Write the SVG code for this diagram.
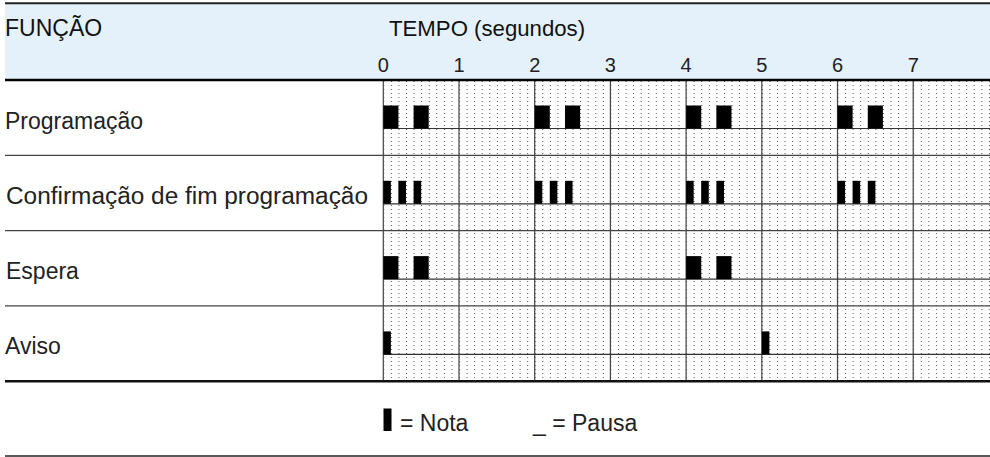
<svg xmlns="http://www.w3.org/2000/svg" width="990" height="457" viewBox="0 0 990 457">
  <style>
    .lbl { font-family: "Liberation Sans", Arial, sans-serif; font-size: 23px; fill: #222; }
    .hdr { font-family: "Liberation Sans", Arial, sans-serif; font-size: 23px; fill: #111; }
    .tick { font-family: "Liberation Sans", Arial, sans-serif; font-size: 20px; fill: #222; text-anchor: middle; }
    .note { fill: #000; }
    .vline { stroke: #444; stroke-width: 1.2; }
    .hline { stroke: #444; stroke-width: 1.2; }
    .sub { stroke: #333; stroke-width: 1.2; }
    .thick { stroke: #111; stroke-width: 2.5; }
  </style>
  <defs>
    <pattern id="dots" patternUnits="userSpaceOnUse" x="383.3" y="81" width="7.57" height="4">
      <rect x="0" y="0" width="1" height="1" fill="#555"/>
    </pattern>
  </defs>

  <!-- header -->
  <g id="header">
    <rect x="5" y="4" width="985" height="75" fill="#E4F1FB"/>
    <text class="hdr" x="5" y="36">FUNÇÃO</text>
    <text class="hdr" x="389" y="36" style="font-size:22.2px">TEMPO (segundos)</text>
    <text class="tick" x="383.3" y="72">0</text>
    <text class="tick" x="459" y="72">1</text>
    <text class="tick" x="534.7" y="72">2</text>
    <text class="tick" x="610.4" y="72">3</text>
    <text class="tick" x="686.1" y="72">4</text>
    <text class="tick" x="761.8" y="72">5</text>
    <text class="tick" x="837.5" y="72">6</text>
    <text class="tick" x="913.2" y="72">7</text>
  </g>

  <!-- grid -->
  <g id="grid">
    <rect x="383.3" y="81" width="607" height="300" fill="url(#dots)"/>
    <line class="vline" x1="383.3" y1="80" x2="383.3" y2="381"/>
    <line class="vline" x1="459" y1="80" x2="459" y2="381"/>
    <line class="vline" x1="534.7" y1="80" x2="534.7" y2="381"/>
    <line class="vline" x1="610.4" y1="80" x2="610.4" y2="381"/>
    <line class="vline" x1="686.1" y1="80" x2="686.1" y2="381"/>
    <line class="vline" x1="761.8" y1="80" x2="761.8" y2="381"/>
    <line class="vline" x1="837.5" y1="80" x2="837.5" y2="381"/>
    <line class="vline" x1="913.2" y1="80" x2="913.2" y2="381"/>
    <line class="hline" x1="5" y1="155.3" x2="990" y2="155.3"/>
    <line class="hline" x1="5" y1="230.6" x2="990" y2="230.6"/>
    <line class="hline" x1="5" y1="305.9" x2="990" y2="305.9"/>
    <line class="sub" x1="383.3" y1="128.5" x2="990" y2="128.5"/>
    <line class="sub" x1="383.3" y1="203.8" x2="990" y2="203.8"/>
    <line class="sub" x1="383.3" y1="279.1" x2="990" y2="279.1"/>
    <line class="sub" x1="383.3" y1="354.4" x2="990" y2="354.4"/>
    <line stroke="#222" stroke-width="2" x1="5" y1="3.3" x2="990" y2="3.3"/>
    <line stroke="#000" stroke-width="2.5" x1="5" y1="80" x2="990" y2="80"/>
    <line class="thick" x1="5" y1="381.2" x2="990" y2="381.2"/>
    <line stroke="#222" stroke-width="1.5" x1="5" y1="456" x2="990" y2="456"/>
  </g>

  <g id="row-programacao">
    <text class="lbl" x="5" y="129">Programação</text>
    <rect class="note" x="383.3" y="105.5" width="15.1" height="23"/>
    <rect class="note" x="413.6" y="105.5" width="15.1" height="23"/>
    <rect class="note" x="534.7" y="105.5" width="15.1" height="23"/>
    <rect class="note" x="565" y="105.5" width="15.1" height="23"/>
    <rect class="note" x="686.1" y="105.5" width="15.1" height="23"/>
    <rect class="note" x="716.4" y="105.5" width="15.1" height="23"/>
    <rect class="note" x="837.5" y="105.5" width="15.1" height="23"/>
    <rect class="note" x="867.8" y="105.5" width="15.1" height="23"/>
  </g>

  <g id="row-confirmacao">
    <text class="lbl" x="6" y="203.8" textLength="362" lengthAdjust="spacingAndGlyphs">Confirmação de fim programação</text>
    <rect class="note" x="383.3" y="180.8" width="7.57" height="23"/>
    <rect class="note" x="398.4" y="180.8" width="7.57" height="23"/>
    <rect class="note" x="413.6" y="180.8" width="7.57" height="23"/>
    <rect class="note" x="534.7" y="180.8" width="7.57" height="23"/>
    <rect class="note" x="549.8" y="180.8" width="7.57" height="23"/>
    <rect class="note" x="565" y="180.8" width="7.57" height="23"/>
    <rect class="note" x="686.1" y="180.8" width="7.57" height="23"/>
    <rect class="note" x="701.2" y="180.8" width="7.57" height="23"/>
    <rect class="note" x="716.4" y="180.8" width="7.57" height="23"/>
    <rect class="note" x="837.5" y="180.8" width="7.57" height="23"/>
    <rect class="note" x="852.6" y="180.8" width="7.57" height="23"/>
    <rect class="note" x="867.8" y="180.8" width="7.57" height="23"/>
  </g>

  <g id="row-espera">
    <text class="lbl" x="6" y="279.1">Espera</text>
    <rect class="note" x="383.3" y="256.1" width="15.1" height="23"/>
    <rect class="note" x="413.6" y="256.1" width="15.1" height="23"/>
    <rect class="note" x="686.1" y="256.1" width="15.1" height="23"/>
    <rect class="note" x="716.4" y="256.1" width="15.1" height="23"/>
  </g>

  <g id="row-aviso">
    <text class="lbl" x="5" y="354.4">Aviso</text>
    <rect class="note" x="383.3" y="331.4" width="7.57" height="23"/>
    <rect class="note" x="761.8" y="331.4" width="7.57" height="23"/>
  </g>

  <g id="legend">
    <rect class="note" x="383.5" y="408.5" width="8" height="22.5"/>
    <text class="lbl" x="400" y="431">= Nota</text>
    <text class="lbl" x="533" y="431">_ = Pausa</text>
  </g>
</svg>
